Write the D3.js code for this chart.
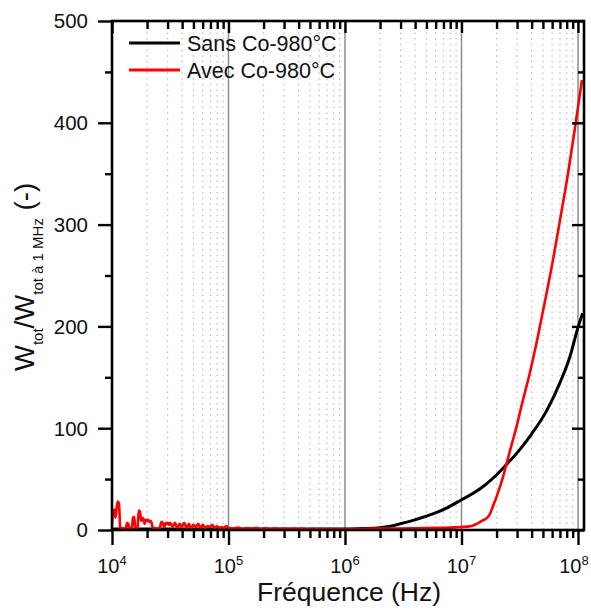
<!DOCTYPE html>
<html><head><meta charset="utf-8">
<script src="https://cdn.jsdelivr.net/npm/d3@7"></script>
<style>
html,body{margin:0;padding:0;background:#fff;}
svg{display:block;font-family:"Liberation Sans",Arial,sans-serif;}
</style></head>
<body><svg id="chart" width="591" height="612"></svg>
<script>
// ---- data ----
const seriesNames = ["Sans Co-980°C", "Avec Co-980°C"];
const seriesColors = ["#000000", "#ff0000"];
const xMajorExps = [4, 5, 6, 7, 8];
const yMajorTicks = [0, 100, 200, 300, 400, 500];
const yMinorTicks = [50, 150, 250, 350, 450];

// Sans Co (black): log10(frequency) and normalised value
const blackLogF = [4.0, 4.5, 5.0, 5.5, 6.0, 6.15, 6.30, 6.40, 6.47, 6.60, 6.76, 6.88, 6.99, 7.10, 7.20, 7.30, 7.40, 7.50, 7.60, 7.735, 7.85, 7.93, 8.00, 8.04];
const blackVal  = [1, 1, 1, 1, 1, 1.4, 2.2, 4, 6, 10, 16, 22, 29, 36, 44, 54, 66, 79, 94, 118, 146, 170, 199, 213];

// Avec Co (red): noisy low-frequency part then the steep rise
const redLogF1 = [4.00,4.01,4.02,4.03,4.04,4.05,4.06,4.07,4.08,4.09,4.10,4.11,4.12,4.13,4.14,4.15,4.16,4.17,4.18,4.19,4.20,4.21,4.22,4.23,4.24,4.25,4.26,4.27,4.28,4.29,4.30,4.31,4.32,4.33,4.34,4.35,4.36,4.37,4.38,4.39,4.40,4.41,4.42,4.43,4.44,4.45,4.46,4.47,4.48,4.49,4.50];
const redVal1  = [5,18,20,12,22,28,26,3,1,2,0.5,1,2,7,6,1,2,1,12,13,2,1,3,19,18,9,12,11,6,10,9,10,8,9,7,2,1,2,1,1.5,2,1,7,8,5,3,7,6,7,5,7];
const redLogF2 = [4.52,4.54,4.56,4.58,4.60,4.62,4.64,4.66,4.68,4.70,4.72,4.74,4.76,4.78,4.80,4.82,4.84,4.86,4.88,4.90,4.92,4.94,4.96,4.98,5.00];
const redVal2  = [3,7,2,6,3,7,2,6,2,5,3,6,2,5,2,4,3,5,2,4,2,3,2,4,2];
const redLogF3 = [5.04,5.08,5.12,5.16,5.20,5.24,5.28,5.32,5.36,5.40,5.44,5.48,5.52,5.56,5.60,5.64,5.68,5.72,5.76,5.80,5.84,5.88,5.92,5.96,6.00];
const redVal3  = [1.5,2.5,1,2,1.2,2.2,1,1.8,0.8,1.6,1,1.5,0.8,1.4,0.9,1.3,0.8,1.2,0.9,1.1,0.9,1.1,1,1,1];
const redLogF4 = [6.2,6.4,6.6,6.8,6.95,7.05,7.10,7.14,7.176,7.219,7.245,7.262,7.302,7.356,7.391,7.433,7.476,7.511,7.588,7.648,7.717,7.785,7.845,7.914,7.974,8.034];
const redVal4  = [1.2,1.4,1.7,2.1,2.6,3.3,4.5,6.5,9,12,16,21,33,52,67,85,103,120,155,186,225,265,304,350,395,442];

// ---- layout ----
const L = 112, R = 584, T = 21, B = 530;
const svg = d3.select("#chart");
const x = d3.scaleLog().domain([1e4, 1.126e8]).range([L, R]);
const y = d3.scaleLinear().domain([0, 500]).range([B, T]);

const majorX = xMajorExps.map(e => Math.pow(10, e));
const minorX = [];
xMajorExps.forEach(e => { for (let k = 2; k <= 9; k++) { const v = k * Math.pow(10, e); if (v <= x.domain()[1]) minorX.push(v); } });

// grid
const grid = svg.append("g");
grid.selectAll("line.minor").data(minorX).join("line")
  .attr("x1", d => x(d)).attr("x2", d => x(d)).attr("y1", T).attr("y2", B)
  .attr("stroke", "#bdbdbd").attr("stroke-width", 1.2).attr("stroke-dasharray", "1.5,4.2");
grid.selectAll("line.major").data(majorX.slice(1)).join("line")
  .attr("x1", d => x(d)).attr("x2", d => x(d)).attr("y1", T).attr("y2", B)
  .attr("stroke", "#8c8c8c").attr("stroke-width", 1.5);

// curves
const toPts = (lf, v) => lf.map((f, i) => [Math.pow(10, f), v[i]]);
const blackPts = toPts(blackLogF, blackVal);
const redPts = toPts(redLogF1.concat(redLogF2, redLogF3, redLogF4), redVal1.concat(redVal2, redVal3, redVal4));
const line = d3.line().x(d => x(d[0])).y(d => y(d[1])).curve(d3.curveMonotoneX);
svg.append("clipPath").attr("id", "clip").append("rect").attr("x", L).attr("y", T - 2).attr("width", R - L).attr("height", B - T + 2);
const plot = svg.append("g").attr("clip-path", "url(#clip)");
plot.append("path").datum(blackPts).attr("d", line).attr("fill", "none").attr("stroke", seriesColors[0]).attr("stroke-width", 3).attr("stroke-linejoin", "round");
plot.append("path").datum(redPts).attr("d", line).attr("fill", "none").attr("stroke", seriesColors[1]).attr("stroke-width", 2.6).attr("stroke-linejoin", "round");

// axes
function styleAxis(g) {
  g.select(".domain").remove();
  g.selectAll(".tick line").attr("stroke", "#000").attr("stroke-width", 2.4);
  g.selectAll(".tick text").remove();
}
svg.append("g").attr("transform", `translate(0,${B})`).call(d3.axisBottom(x).tickValues(majorX).tickSize(15).tickFormat("")).call(styleAxis);
svg.append("g").attr("transform", `translate(0,${B})`).call(d3.axisBottom(x).tickValues(minorX).tickSize(8).tickFormat("")).call(styleAxis);
svg.append("g").attr("transform", `translate(0,${T})`).call(d3.axisTop(x).tickValues(majorX).tickSize(-12).tickFormat("")).call(styleAxis);
svg.append("g").attr("transform", `translate(0,${T})`).call(d3.axisTop(x).tickValues(minorX).tickSize(-8).tickFormat("")).call(styleAxis);
svg.append("g").attr("transform", `translate(${L},0)`).call(d3.axisLeft(y).tickValues(yMajorTicks).tickSize(14).tickFormat("")).call(styleAxis);
svg.append("g").attr("transform", `translate(${L},0)`).call(d3.axisLeft(y).tickValues(yMinorTicks).tickSize(7).tickFormat("")).call(styleAxis);
svg.append("g").attr("transform", `translate(${R},0)`).call(d3.axisRight(y).tickValues(yMajorTicks).tickSize(-12).tickFormat("")).call(styleAxis);
svg.append("g").attr("transform", `translate(${R},0)`).call(d3.axisRight(y).tickValues(yMinorTicks).tickSize(-6).tickFormat("")).call(styleAxis);

// frame
svg.append("rect").attr("x", L).attr("y", T).attr("width", R - L).attr("height", B - T)
  .attr("fill", "none").attr("stroke", "#000").attr("stroke-width", 2.6);

// tick labels
svg.append("g").selectAll("text").data(yMajorTicks).join("text")
  .attr("x", 88).attr("y", d => y(d)).attr("dy", "0.36em").attr("text-anchor", "end")
  .attr("font-size", 20.5).attr("fill", "#111").text(d => d);
const xl = svg.append("g").selectAll("text").data(xMajorExps).join("text")
  .attr("x", d => Math.min(x(Math.pow(10, d)), 574)).attr("y", 573).attr("text-anchor", "middle")
  .attr("font-size", 20).attr("fill", "#111");
xl.append("tspan").text("10");
xl.append("tspan").attr("dy", -8).attr("font-size", 13).text(d => d);

// axis titles
svg.append("text").attr("x", (L + R) / 2 + 1).attr("y", 601).attr("text-anchor", "middle")
  .attr("font-size", 26.5).attr("fill", "#111").text("Fréquence (Hz)");
const yt = svg.append("text").attr("transform", "translate(34,277) rotate(-90)").attr("text-anchor", "middle")
  .attr("font-size", 27.5).attr("fill", "#111");
yt.append("tspan").text("W");
yt.append("tspan").attr("font-size", 15).attr("dy", 9).text("tot");
yt.append("tspan").attr("dy", -9).text("/W");
yt.append("tspan").attr("font-size", 15).attr("dy", 9).text("tot à 1 MHz");
yt.append("tspan").attr("dy", -9).text(" (-)");

// legend
const lg = svg.append("g");
seriesNames.forEach((n, i) => {
  const yy = 43 + i * 27;
  lg.append("line").attr("x1", 129).attr("x2", 180).attr("y1", yy).attr("y2", yy)
    .attr("stroke", seriesColors[i]).attr("stroke-width", 3.2);
  lg.append("text").attr("x", 187).attr("y", yy + 7.5).attr("font-size", 21.5).attr("fill", "#111").text(n);
});
</script></body></html>
